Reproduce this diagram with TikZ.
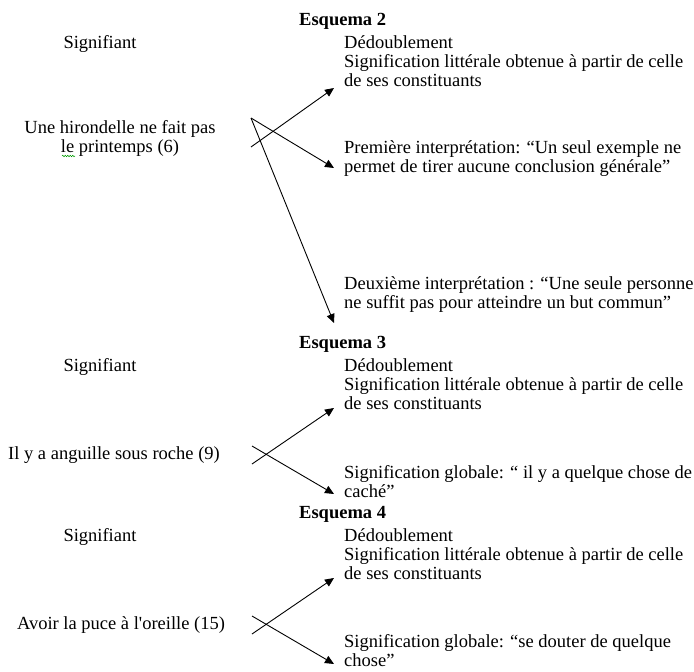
\documentclass[tikz,border=0pt]{standalone}
\usepackage{fontspec}
\setmainfont{Liberation Serif}
\usetikzlibrary{arrows.meta,decorations.pathmorphing}
\newcommand{\straightapos}{{\addfontfeatures{Ligatures=TeXOff}'}}
\begin{document}
\begin{tikzpicture}[x=1pt,y=-1pt,
  txt/.style={inner sep=0pt, font=\fontsize{18.5}{19}\selectfont},
  lft/.style={txt, anchor=base west, align=left},
  ctr/.style={txt, anchor=base, align=center},
  ttl/.style={inner sep=0pt, anchor=base west, font=\fontsize{18.5}{19}\selectfont\bfseries},
  arr/.style={line width=0.9pt, -{Triangle[length=9pt,width=8pt]}},
  spell/.style={draw=green!60!black, line width=0.5pt, decorate, decoration={snake, amplitude=0.8pt, segment length=2.5pt}},
]
\useasboundingbox (0,0) rectangle (694,672);
% Esquema 2
\node[ttl] (e2) at (299,25) {Esquema 2};
\node[ctr] (sig2) at (100,48) {Signifiant};
\node[lft] (ded2) at (344,48) {Dédoublement};
\node[lft] (lit2) at (344,86) {Signification littérale obtenue à partir de celle\\de ses constituants};
\node[ctr] (ex2) at (120,152) {Une hirondelle ne fait pas\\le printemps (6)};
\draw[spell] (62,156) -- (75,156);
\node[lft] (int1) at (344,172) {Première interprétation: “Un seul exemple ne\\permet de tirer aucune conclusion générale”};
\node[lft] (int2) at (344,308) {Deuxième interprétation : “Une seule personne\\ne suffit pas pour atteindre un but commun”};
\coordinate (v2) at (251,118);
\coordinate (a2s) at (251,147);
\coordinate (a2t) at (334,88);
\coordinate (b2t) at (334,168);
\coordinate (c2t) at (334,323);
\draw[arr] (a2s) -- (a2t);
\draw[arr] (v2) -- (b2t);
\draw[arr] (v2) -- (c2t);
% Esquema 3
\node[ttl] (e3) at (299,348) {Esquema 3};
\node[ctr] (sig3) at (100,371) {Signifiant};
\node[lft] (ded3) at (344,371) {Dédoublement};
\node[lft] (lit3) at (344,409) {Signification littérale obtenue à partir de celle\\de ses constituants};
\node[ctr] (ex3) at (114,459) {Il y a anguille sous roche (9)};
\node[lft] (glob3) at (344,497) {Signification globale: “ il y a quelque chose de\\caché”};
\coordinate (a3s) at (252,464);
\coordinate (a3t) at (334,408);
\coordinate (b3s) at (252,446);
\coordinate (b3t) at (334,494);
\draw[arr] (a3s) -- (a3t);
\draw[arr] (b3s) -- (b3t);
% Esquema 4
\node[ttl] (e4) at (299,518) {Esquema 4};
\node[ctr] (sig4) at (100,541) {Signifiant};
\node[lft] (ded4) at (344,541) {Dédoublement};
\node[lft] (lit4) at (344,579) {Signification littérale obtenue à partir de celle\\de ses constituants};
\node[ctr] (ex4) at (121,629) {Avoir la puce à l\straightapos oreille (15)};
\node[lft] (glob4) at (344,666) {Signification globale: “se douter de quelque\\chose”};
\coordinate (a4s) at (252,634);
\coordinate (a4t) at (334,578);
\coordinate (b4s) at (252,616);
\coordinate (b4t) at (334,664);
\draw[arr] (a4s) -- (a4t);
\draw[arr] (b4s) -- (b4t);
\end{tikzpicture}
\end{document}
